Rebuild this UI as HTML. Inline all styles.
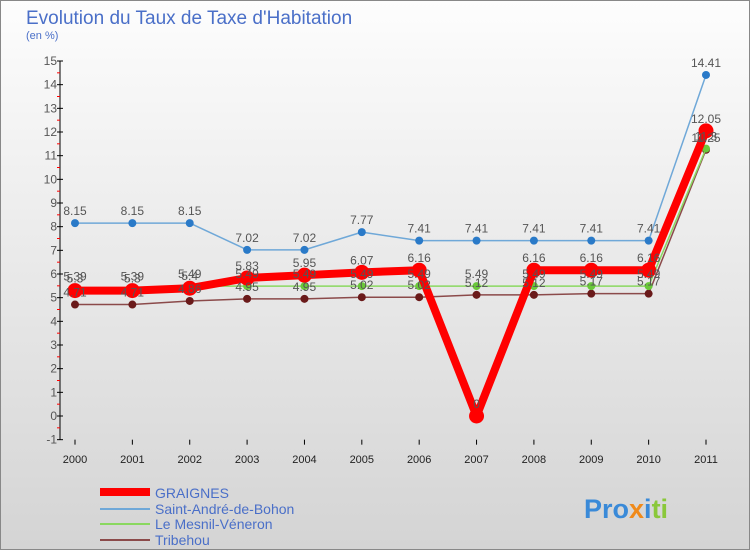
<!DOCTYPE html>
<html><head><meta charset="utf-8"><style>
body{margin:0}
svg{display:block;font-family:"Liberation Sans",sans-serif}
</style></head><body>
<svg width="750" height="550" xmlns="http://www.w3.org/2000/svg">
<defs><linearGradient id="bg" x1="0" y1="0" x2="0" y2="1"><stop offset="0" stop-color="#fdfdfd"/><stop offset="1" stop-color="#d4d4d4"/></linearGradient></defs>
<rect x="0.5" y="0.5" width="749" height="549" fill="url(#bg)" stroke="#888"/>
<text x="26" y="24" font-size="19" fill="#4a6fc8">Evolution du Taux de Taxe d'Habitation</text>
<text x="26" y="39" font-size="11" fill="#4a6fc8">(en %)</text>
<g id="axes"></g><g id="series"></g><g id="labels"></g>
<g>
<line x1="100" y1="492" x2="150" y2="492" stroke="#f00" stroke-width="8"/>
<text x="155" y="498" font-size="14" fill="#4a6fc8">GRAIGNES</text>
<line x1="100" y1="509" x2="150" y2="509" stroke="#6fa8d8" stroke-width="2"/>
<text x="155" y="514" font-size="14" fill="#4a6fc8">Saint-André-de-Bohon</text>
<line x1="100" y1="524" x2="150" y2="524" stroke="#8ad860" stroke-width="2"/>
<text x="155" y="529" font-size="14" fill="#4a6fc8">Le Mesnil-Véneron</text>
<line x1="100" y1="540" x2="150" y2="540" stroke="#8b4a4a" stroke-width="2"/>
<text x="155" y="545" font-size="14" fill="#4a6fc8">Tribehou</text>
</g>
<text x="584" y="518" font-size="27" font-weight="bold"><tspan fill="#3a8ad8">Pro</tspan><tspan fill="#f08a1a">x</tspan><tspan fill="#3a8ad8">i</tspan><tspan fill="#8ac83a">ti</tspan></text>
</svg>
<script>
const years=[2000,2001,2002,2003,2004,2005,2006,2007,2008,2009,2010,2011];
const graignes=[5.3,5.3,5.4,5.83,5.95,6.07,6.16,0,6.16,6.16,6.16,12.05];
const saintAndre=[8.15,8.15,8.15,7.02,7.02,7.77,7.41,7.41,7.41,7.41,7.41,14.41];
const mesnil=[5.39,5.39,5.49,5.49,5.49,5.49,5.49,5.49,5.49,5.49,5.49,11.3];
const tribehou=[4.71,4.71,4.86,4.95,4.95,5.02,5.02,5.12,5.12,5.17,5.17,11.25];
const yTicks=[-1,0,1,2,3,4,5,6,7,8,9,10,11,12,13,14,15];
const NS="http://www.w3.org/2000/svg";
const X=i=>75+i*(706-75)/11;
const Y=v=>416-v*(355/15);
function mk(p,t,a){const e=document.createElementNS(NS,t);for(const k in a)e.setAttribute(k,a[k]);p.appendChild(e);return e;}
const ax=document.getElementById('axes'),se=document.getElementById('series'),lb=document.getElementById('labels');
const yl=mk(ax,'line',{x1:60,y1:Y(15),x2:60,y2:Y(-1),stroke:'#000'});


yTicks.forEach(v=>{
 mk(ax,'line',{x1:57,y1:Y(v),x2:63,y2:Y(v),stroke:'#000'});
 if(v<15)mk(ax,'line',{x1:57,y1:Y(v+0.5),x2:60,y2:Y(v+0.5),stroke:'#f00'});
 const t=mk(ax,'text',{x:57,y:Y(v)+4,'font-size':12,'text-anchor':'end',fill:'#555'});t.textContent=v;
 
 
});
years.forEach((yr,i)=>{
 mk(ax,'line',{x1:X(i),y1:Y(-1),x2:X(i),y2:Y(-1)+5,stroke:'#000'});
 const t=mk(ax,'text',{x:X(i),y:463,'font-size':11,'text-anchor':'middle',fill:'#222'});t.textContent=yr;
 
 
});
function draw(d,col,w,r,name,dot){
 const pts=d.map((v,i)=>X(i)+','+Y(v)).join(' ');
 const pl=mk(se,'polyline',{points:pts,fill:'none',stroke:col,'stroke-width':w,'stroke-linejoin':'round'});
 
 
 d.forEach((v,i)=>{
  const c=mk(se,'circle',{cx:X(i),cy:Y(v),r:r,fill:dot});
  
  
  const t=mk(lb,'text',{x:X(i),y:Y(v)-8,'font-size':12,'text-anchor':'middle',fill:'#555'});t.textContent=v;
  
  
 });
}
draw(tribehou,'#8b4a4a',1.5,4,'tribehou','#6a1a1a');
draw(mesnil,'#8ad860',1.5,4,'mesnil','#6ac83a');
draw(saintAndre,'#6fa8d8',1.5,4,'saint-andre','#2a7ac8');
draw(graignes,'#f00',8,7.5,'graignes','#f00');
</script>
</body></html>
